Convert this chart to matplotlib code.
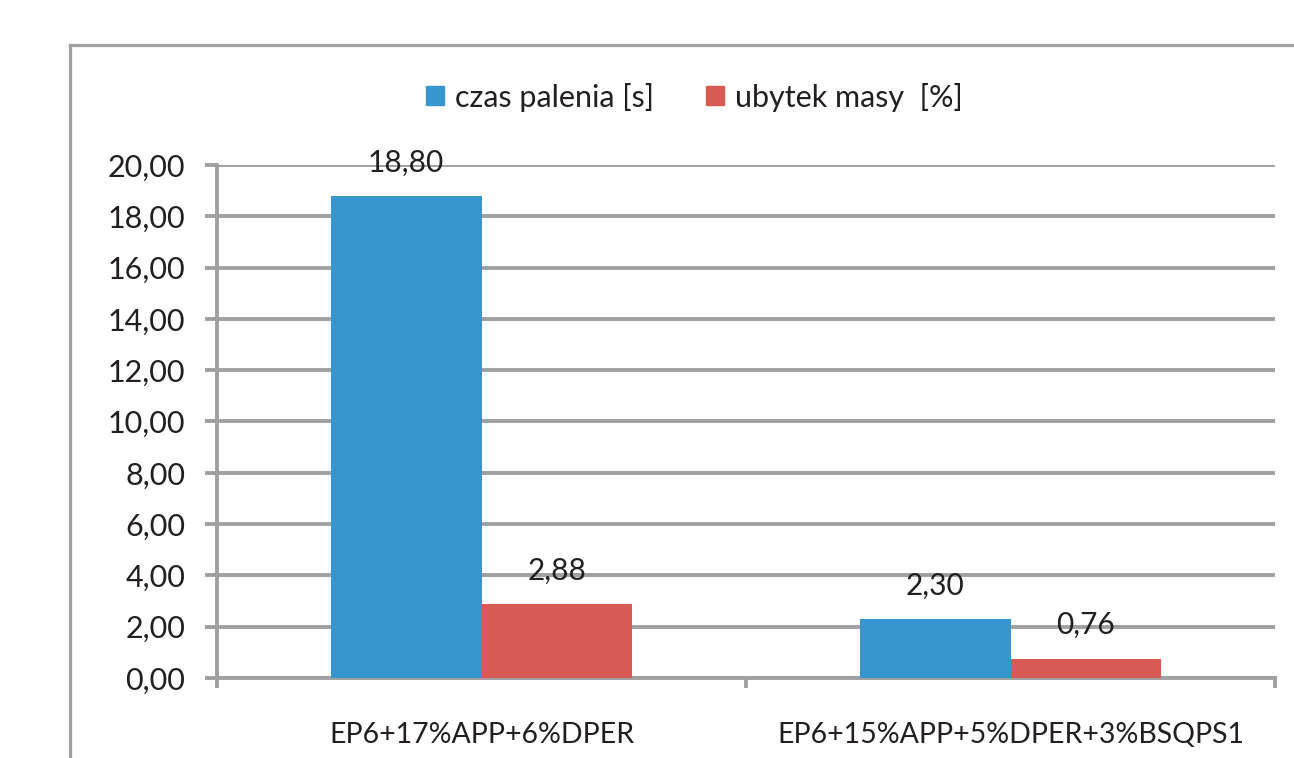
import matplotlib
matplotlib.use("Agg")
import matplotlib.pyplot as plt
from matplotlib.lines import Line2D
from matplotlib.patches import Patch
import numpy as np

categories = ["EP6+17%APP+6%DPER", "EP6+15%APP+5%DPER+3%BSQPS1"]
series_names = ["czas palenia [s]", "ubytek masy  [%]"]
burn_time = [18.80, 2.30]
mass_loss = [2.88, 0.76]
y_ticks = [0, 2, 4, 6, 8, 10, 12, 14, 16, 18, 20]

blue = "#3796CD"
red = "#D85A54"
grey = "#A0A0A3"
text_color = "#231F20"
line_w = 2.8

plt.rcParams["font.family"] = ["Lato", "DejaVu Sans"]

fig = plt.figure(figsize=(12.94, 7.58), dpi=100)
ax = fig.add_axes([217 / 1294, 80 / 758, 1058 / 1294, 513 / 758])

x = np.arange(len(categories))
w = 0.285
b1 = ax.bar(x - w / 2, burn_time, w, color=blue, label=series_names[0], zorder=3)
b2 = ax.bar(x + w / 2, mass_loss, w, color=red, label=series_names[1], zorder=3)

for bars, vals in ((b1, burn_time), (b2, mass_loss)):
    for rect, v in zip(bars, vals):
        ax.annotate(f"{v:.2f}".replace(".", ","),
                    (rect.get_x() + rect.get_width() / 2, v),
                    xytext=(0, 24), textcoords="offset points",
                    ha="center", va="center", fontsize=21.5, color=text_color,
                    zorder=4)

ax.set_xlim(-0.5, len(categories) - 0.5)
ax.set_ylim(0, 20)
ax.set_yticks(y_ticks)
ax.set_yticklabels([f"{t:.2f}".replace(".", ",") for t in y_ticks])
ax.yaxis.grid(True, color=grey, linewidth=line_w, zorder=1)
ax.set_axisbelow(True)

ax.set_xticks(x)
ax.set_xticklabels(categories)
ax.set_xticks(np.arange(-0.5, len(categories), 1.0), minor=True)
ax.tick_params(axis="x", which="major", length=0, pad=32, labelsize=20.5,
               labelcolor=text_color)
ax.tick_params(axis="x", which="minor", length=7, width=line_w, color=grey)
ax.tick_params(axis="y", length=9, width=line_w, color=grey, pad=14,
               labelsize=22, labelcolor=text_color)

for s in ("top", "right"):
    ax.spines[s].set_visible(False)
for s in ("left", "bottom"):
    ax.spines[s].set_color(grey)
    ax.spines[s].set_linewidth(line_w)

handles = [Patch(color=blue), Patch(color=red)]
fig.legend(handles, series_names, loc="center", bbox_to_anchor=(694 / 1294, 1 - 97 / 758),
           ncol=2, frameon=False, fontsize=22, handlelength=0.6, handleheight=0.6,
           handletextpad=0.35, columnspacing=1.7, labelcolor=text_color)

# outer chart-area frame
fig.add_artist(Line2D([70 / 1294, 70 / 1294], [0, 1 - 45 / 758], color=grey,
                      linewidth=2.3, transform=fig.transFigure))
fig.add_artist(Line2D([70 / 1294, 1], [1 - 45 / 758, 1 - 45 / 758], color=grey,
                      linewidth=2.3, transform=fig.transFigure))

fig.savefig("out.png", dpi=100, facecolor="white")
